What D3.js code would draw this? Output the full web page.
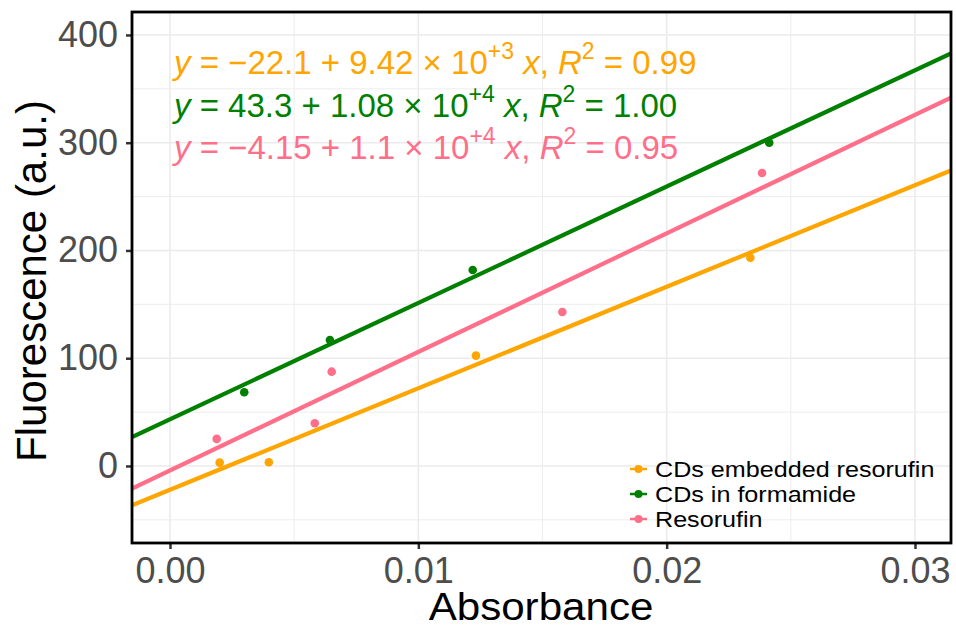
<!DOCTYPE html>
<html>
<head>
<meta charset="utf-8">
<script src="https://cdn.jsdelivr.net/npm/d3@7"></script>
<style>
  body { margin: 0; background: #fff; }
  svg { display: block; font-family: "Liberation Sans", Arial, sans-serif; }
</style>
</head>
<body>
<svg width="956" height="630"></svg>
<script>
const series = ["CDs embedded resorufin", "CDs in formamide", "Resorufin"];
const colors = ["#FFA500", "#008000", "#FF6F8A"];

// absorbance / fluorescence readings per series
const absEmbedded = [0.0020, 0.00398, 0.01232, 0.02337];
const fluEmbedded = [3.1, 3.4, 102.4, 193.3];
const absFormamide = [0.00299, 0.00644, 0.01219, 0.02413];
const fluFormamide = [68.4, 116.9, 181.9, 300];
const absResorufin = [0.00188, 0.00583, 0.00651, 0.0158, 0.02384];
const fluResorufin = [25.1, 39.6, 87.5, 142.9, 271.9];

// fitted lines as printed on the chart
const intercepts = [-22.1, 43.3, -4.15];
const slopes = [9.42e3, 1.08e4, 1.1e4];
const interceptLabels = ["\u221222.1", "43.3", "\u22124.15"];
const slopeMantissas = ["9.42", "1.08", "1.1"];
const slopeExponents = ["+3", "+4", "+4"];
const r2Labels = ["0.99", "1.00", "0.95"];

const xTicks = [0, 0.01, 0.02, 0.03];
const yTicks = [0, 100, 200, 300, 400];
const xMinor = [0.005, 0.015, 0.025];
const yMinor = [-50, 50, 150, 250, 350];

const xs = [absEmbedded, absFormamide, absResorufin];
const ys = [fluEmbedded, fluFormamide, fluResorufin];
const points = [];
series.forEach((s, i) =>
  xs[i].forEach((v, j) => points.push({ s: i, x: v, y: ys[i][j] }))
);

const svg = d3.select("svg");
const panel = { left: 132, right: 951, top: 12, bottom: 543 };

const x = d3.scaleLinear().domain([-0.00153, 0.03145]).range([panel.left, panel.right]);
const y = d3.scaleLinear().domain([-71.5, 421.3]).range([panel.bottom, panel.top]);

const grid = svg.append("g").attr("stroke", "#EBEBEB");
grid.selectAll(".vmin").data(xMinor).join("line")
  .attr("x1", d => x(d)).attr("x2", d => x(d))
  .attr("y1", panel.top).attr("y2", panel.bottom).attr("stroke-width", 0.9);
grid.selectAll(".hmin").data(yMinor).join("line")
  .attr("y1", d => y(d)).attr("y2", d => y(d))
  .attr("x1", panel.left).attr("x2", panel.right).attr("stroke-width", 0.9);
grid.selectAll(".vmaj").data(xTicks).join("line")
  .attr("x1", d => x(d)).attr("x2", d => x(d))
  .attr("y1", panel.top).attr("y2", panel.bottom).attr("stroke-width", 1.6);
grid.selectAll(".hmaj").data(yTicks).join("line")
  .attr("y1", d => y(d)).attr("y2", d => y(d))
  .attr("x1", panel.left).attr("x2", panel.right).attr("stroke-width", 1.6);

// clip for fit lines
svg.append("clipPath").attr("id", "clip").append("rect")
  .attr("x", panel.left).attr("y", panel.top)
  .attr("width", panel.right - panel.left).attr("height", panel.bottom - panel.top);

const xd = x.domain();
svg.append("g").attr("clip-path", "url(#clip)")
  .selectAll("line").data(series).join("line")
  .attr("x1", x(xd[0])).attr("x2", x(xd[1]))
  .attr("y1", (d, i) => y(intercepts[i] + slopes[i] * xd[0]))
  .attr("y2", (d, i) => y(intercepts[i] + slopes[i] * xd[1]))
  .attr("stroke", (d, i) => colors[i])
  .attr("stroke-width", 4.2);

svg.append("g").selectAll("circle").data(points).join("circle")
  .attr("cx", d => x(d.x)).attr("cy", d => y(d.y)).attr("r", 4.3)
  .attr("fill", d => colors[d.s]);

// equations
const eq = svg.append("g").attr("font-size", 33);
series.forEach((s, i) => {
  const t = eq.append("text")
    .attr("x", 174).attr("y", 74 + i * 42.5)
    .attr("fill", colors[i]);
  t.append("tspan").attr("font-style", "italic").text("y");
  t.append("tspan").text(" = " + interceptLabels[i] + " + " + slopeMantissas[i] + " \u00D7 10");
  t.append("tspan").attr("font-size", 23).attr("dy", -15).text(slopeExponents[i]);
  t.append("tspan").attr("dy", 15).attr("font-style", "italic").text(" x");
  t.append("tspan").text(", ");
  t.append("tspan").attr("font-style", "italic").text("R");
  t.append("tspan").attr("font-size", 23).attr("dy", -15).text("2");
  t.append("tspan").attr("dy", 15).text(" = " + r2Labels[i]);
});

// legend
const leg = svg.append("g").attr("transform", "translate(630,469)");
const row = leg.selectAll("g").data(series).join("g")
  .attr("transform", (d, i) => `translate(0,${i * 25})`);
row.append("line").attr("x1", 0).attr("x2", 17)
  .attr("stroke", (d, i) => colors[i]).attr("stroke-width", 2.5);
row.append("circle").attr("cx", 8.5).attr("r", 4).attr("fill", (d, i) => colors[i]);
row.append("text").attr("transform", "translate(25,0) scale(1.17,1)").attr("dy", "0.36em")
  .attr("font-size", 21.5).attr("fill", "#000").text(d => d);

// axes
const xAxis = svg.append("g").attr("transform", `translate(0,${panel.bottom})`)
  .call(d3.axisBottom(x).tickValues(xTicks).tickFormat(d3.format(".2f")).tickSize(6).tickPadding(8));
const yAxis = svg.append("g").attr("transform", `translate(${panel.left},0)`)
  .call(d3.axisLeft(y).tickValues(yTicks).tickSize(6).tickPadding(8));
[xAxis, yAxis].forEach(a => {
  a.select(".domain").remove();
  a.selectAll(".tick line").attr("stroke", "#333").attr("stroke-width", 2.5);
  a.selectAll(".tick text").attr("fill", "#4D4D4D").attr("font-size", 36)
    .attr("font-family", "'Liberation Sans', Arial, sans-serif");
});

svg.append("rect")
  .attr("x", panel.left).attr("y", panel.top)
  .attr("width", panel.right - panel.left).attr("height", panel.bottom - panel.top)
  .attr("fill", "none").attr("stroke", "#000").attr("stroke-width", 2.8);

svg.append("text").attr("transform", "translate(541,620) scale(1.08,1)")
  .attr("text-anchor", "middle").attr("font-size", 39).text("Absorbance");
svg.append("text").attr("transform", `translate(46,281) rotate(-90)`)
  .attr("text-anchor", "middle").attr("font-size", 42).text("Fluorescence (a.u.)");
</script>
</body>
</html>
